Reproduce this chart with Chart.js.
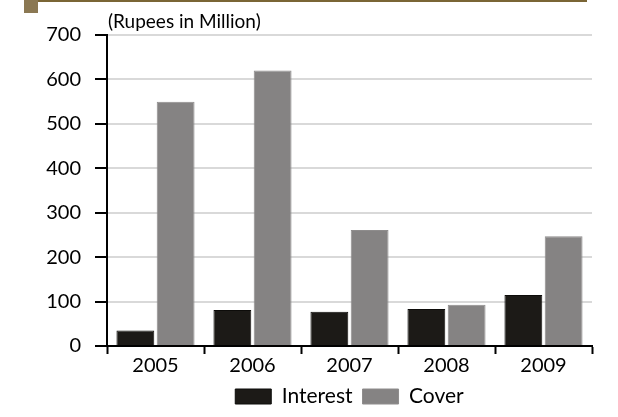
<!DOCTYPE html>
<html>
<head>
<meta charset="utf-8">
<script src="https://cdn.jsdelivr.net/npm/chart.js@4/dist/chart.umd.min.js"></script>
<style>
    html, body { margin: 0; padding: 0; background: #fff; }
    #wrap { width: 618px; height: 417px; position: relative; }
</style>
</head>
<body>
<div id="wrap"><canvas id="chart" width="618" height="417"></canvas></div>
<script>
// Veriler
const years = ['2005', '2006', '2007', '2008', '2009'];
const interest = [35, 81, 77, 83, 115];
const cover = [550, 620, 261, 93, 247];
const yTicks = [0, 100, 200, 300, 400, 500, 600, 700];
const unitLabel = '(Rupees in Million)';

const FONT = 'Lato, "DejaVu Sans", sans-serif';

// Üst süsleme ve birim etiketi
const decorPlugin = {
    id: 'decor',
    beforeDraw(chart) {
        const ctx = chart.ctx;
        ctx.save();
        ctx.fillStyle = '#8b7853';
        ctx.fillRect(24, 0, 14, 13);
        ctx.fillStyle = '#7a6535';
        ctx.fillRect(38, 0, 549, 2);
        ctx.restore();
    },
    afterDraw(chart) {
        const ctx = chart.ctx;
        const area = chart.chartArea;
        ctx.save();
        ctx.fillStyle = '#000';
        ctx.font = '19px ' + FONT;
        ctx.textAlign = 'left';
        ctx.textBaseline = 'alphabetic';
        ctx.fillText(unitLabel, area.left + 1, area.top - 7);
        ctx.restore();
    }
};

new Chart(document.getElementById('chart').getContext('2d'), {
    type: 'bar',
    data: {
        labels: years,
        datasets: [
            {
                label: 'Interest',
                data: interest,
                backgroundColor: '#1c1a17',
                borderColor: '#0d0c0a',
                borderWidth: 1
            },
            {
                label: 'Cover',
                data: cover,
                backgroundColor: '#858383',
                borderColor: '#8e8c8c',
                borderWidth: 1
            }
        ]
    },
    options: {
        responsive: false,
        animation: false,
        layout: { padding: { top: 35, left: 0, right: 26, bottom: 0 } },
        datasets: {
            bar: { categoryPercentage: 0.83, barPercentage: 0.94 }
        },
        scales: {
            x: {
                grid: {
                    offset: true,
                    drawOnChartArea: false,
                    drawTicks: true,
                    tickLength: 8,
                    tickColor: '#000',
                    tickWidth: 2
                },
                border: { color: '#000', width: 2 },
                ticks: {
                    color: '#000',
                    font: { family: FONT, size: 20 },
                    padding: 0
                },
                afterFit(scale) { scale.height = 30; }
            },
            y: {
                min: 0,
                max: 700,
                afterBuildTicks(scale) {
                    scale.ticks = yTicks.map(v => ({ value: v }));
                },
                grid: {
                    color: '#d9d9d9',
                    lineWidth: 2,
                    drawTicks: true,
                    tickLength: 12,
                    tickColor: '#000',
                    tickWidth: 2
                },
                border: { color: '#000', width: 2 },
                ticks: {
                    color: '#000',
                    font: { family: FONT, size: 20 },
                    padding: 14
                },
                afterFit(scale) { scale.width = 107; }
            }
        },
        plugins: {
            legend: {
                position: 'bottom',
                fullSize: false,
                labels: {
                    boxWidth: 36,
                    boxHeight: 15,
                    color: '#000',
                    font: { family: FONT, size: 21 },
                    padding: 10
                }
            },
            tooltip: { enabled: false }
        }
    },
    plugins: [decorPlugin]
});
</script>
</body>
</html>
